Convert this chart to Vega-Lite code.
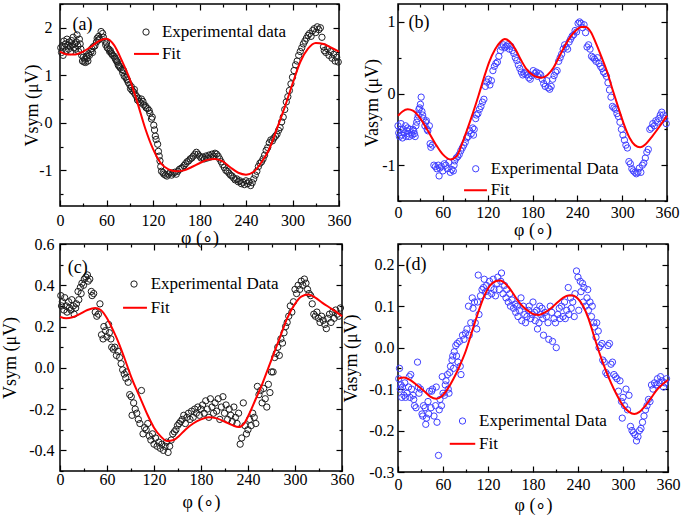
{
"$schema": "https://vega.github.io/schema/vega-lite/v6.json",
"padding": {"left": 0, "top": 2, "right": 5, "bottom": 5},
"columns": 2,
"bounds": "flush",
"align": "all",
"spacing": {"row": 12, "column": 56},
"resolve": {"scale": {"x": "independent", "y": "independent"}},
"datasets": {
"a_pts": [{"phi":1,"v":1.58},{"phi":2,"v":1.48},{"phi":3,"v":1.62},{"phi":4,"v":1.42},{"phi":5,"v":1.72},{"phi":6,"v":1.6},{"phi":7,"v":1.66},{"phi":8,"v":1.52},{"phi":9,"v":1.76},{"phi":10,"v":1.63},{"phi":11,"v":1.55},{"phi":12,"v":1.7},{"phi":13,"v":1.6},{"phi":14,"v":1.5},{"phi":15,"v":1.73},{"phi":16,"v":1.64},{"phi":17,"v":1.8},{"phi":18,"v":1.58},{"phi":19,"v":1.66},{"phi":20,"v":1.55},{"phi":21,"v":1.7},{"phi":22,"v":1.85},{"phi":23,"v":1.62},{"phi":24,"v":1.5},{"phi":25,"v":1.76},{"phi":26,"v":1.66},{"phi":27,"v":1.55},{"phi":28,"v":1.42},{"phi":29,"v":1.3},{"phi":30,"v":1.38},{"phi":31,"v":1.28},{"phi":32,"v":1.34},{"phi":33,"v":1.27},{"phi":34,"v":1.4},{"phi":35,"v":1.36},{"phi":36,"v":1.3},{"phi":37,"v":1.45},{"phi":38,"v":1.42},{"phi":40,"v":1.5},{"phi":41,"v":1.56},{"phi":42,"v":1.48},{"phi":43,"v":1.6},{"phi":45,"v":1.62},{"phi":47,"v":1.7},{"phi":48,"v":1.78},{"phi":49,"v":1.74},{"phi":50,"v":1.82},{"phi":51,"v":1.76},{"phi":53,"v":1.92},{"phi":55,"v":1.88},{"phi":56,"v":1.8},{"phi":58,"v":1.72},{"phi":59,"v":1.64},{"phi":60,"v":1.68},{"phi":61,"v":1.58},{"phi":63,"v":1.55},{"phi":64,"v":1.5},{"phi":65,"v":1.52},{"phi":66,"v":1.47},{"phi":67,"v":1.45},{"phi":68,"v":1.42},{"phi":70,"v":1.4},{"phi":71,"v":1.36},{"phi":72,"v":1.33},{"phi":73,"v":1.3},{"phi":74,"v":1.28},{"phi":75,"v":1.22},{"phi":76,"v":1.2},{"phi":77,"v":1.18},{"phi":78,"v":1.15},{"phi":80,"v":1.12},{"phi":81,"v":1.05},{"phi":82,"v":1.1},{"phi":83,"v":0.98},{"phi":85,"v":0.96},{"phi":86,"v":0.92},{"phi":87,"v":0.9},{"phi":88,"v":0.85},{"phi":90,"v":0.8},{"phi":91,"v":0.72},{"phi":92,"v":0.76},{"phi":93,"v":0.68},{"phi":95,"v":0.65},{"phi":96,"v":0.7},{"phi":97,"v":0.6},{"phi":99,"v":0.55},{"phi":100,"v":0.48},{"phi":101,"v":0.52},{"phi":102,"v":0.45},{"phi":104,"v":0.42},{"phi":105,"v":0.5},{"phi":107,"v":0.45},{"phi":108,"v":0.38},{"phi":110,"v":0.36},{"phi":111,"v":0.32},{"phi":113,"v":0.3},{"phi":115,"v":0.26},{"phi":116,"v":0.2},{"phi":118,"v":0.08},{"phi":119,"v":0.12},{"phi":121,"v":-0.05},{"phi":122,"v":-0.15},{"phi":123,"v":-0.28},{"phi":124,"v":-0.35},{"phi":126,"v":-0.45},{"phi":127,"v":-0.6},{"phi":128,"v":-0.7},{"phi":129,"v":-0.8},{"phi":130,"v":-0.92},{"phi":131,"v":-1.02},{"phi":133,"v":-1.05},{"phi":134,"v":-1.08},{"phi":136,"v":-1.1},{"phi":138,"v":-1.12},{"phi":140,"v":-1.08},{"phi":142,"v":-1.05},{"phi":144,"v":-1.1},{"phi":146,"v":-1.06},{"phi":148,"v":-1.04},{"phi":150,"v":-1.08},{"phi":152,"v":-1.02},{"phi":154,"v":-0.98},{"phi":156,"v":-0.96},{"phi":158,"v":-0.94},{"phi":160,"v":-0.9},{"phi":162,"v":-0.86},{"phi":164,"v":-0.82},{"phi":166,"v":-0.8},{"phi":168,"v":-0.76},{"phi":170,"v":-0.74},{"phi":172,"v":-0.7},{"phi":174,"v":-0.66},{"phi":176,"v":-0.62},{"phi":178,"v":-0.66},{"phi":180,"v":-0.7},{"phi":182,"v":-0.74},{"phi":184,"v":-0.72},{"phi":186,"v":-0.76},{"phi":188,"v":-0.7},{"phi":190,"v":-0.74},{"phi":192,"v":-0.68},{"phi":194,"v":-0.72},{"phi":196,"v":-0.66},{"phi":198,"v":-0.7},{"phi":200,"v":-0.64},{"phi":202,"v":-0.66},{"phi":204,"v":-0.7},{"phi":206,"v":-0.76},{"phi":208,"v":-0.82},{"phi":210,"v":-0.88},{"phi":212,"v":-0.94},{"phi":214,"v":-1.0},{"phi":216,"v":-1.02},{"phi":218,"v":-1.06},{"phi":220,"v":-1.1},{"phi":222,"v":-1.12},{"phi":224,"v":-1.16},{"phi":226,"v":-1.2},{"phi":228,"v":-1.18},{"phi":230,"v":-1.24},{"phi":232,"v":-1.22},{"phi":234,"v":-1.28},{"phi":236,"v":-1.25},{"phi":238,"v":-1.3},{"phi":240,"v":-1.22},{"phi":242,"v":-1.28},{"phi":244,"v":-1.24},{"phi":246,"v":-1.32},{"phi":248,"v":-1.26},{"phi":250,"v":-1.18},{"phi":252,"v":-1.1},{"phi":254,"v":-1.02},{"phi":256,"v":-0.92},{"phi":258,"v":-0.85},{"phi":260,"v":-0.82},{"phi":262,"v":-0.76},{"phi":264,"v":-0.68},{"phi":266,"v":-0.58},{"phi":268,"v":-0.52},{"phi":270,"v":-0.42},{"phi":272,"v":-0.36},{"phi":274,"v":-0.38},{"phi":276,"v":-0.32},{"phi":278,"v":-0.28},{"phi":280,"v":-0.24},{"phi":282,"v":-0.16},{"phi":284,"v":-0.1},{"phi":286,"v":0.02},{"phi":288,"v":0.12},{"phi":290,"v":0.28},{"phi":292,"v":0.44},{"phi":294,"v":0.55},{"phi":296,"v":0.68},{"phi":298,"v":0.82},{"phi":300,"v":0.96},{"phi":302,"v":1.1},{"phi":304,"v":1.22},{"phi":306,"v":1.3},{"phi":308,"v":1.42},{"phi":310,"v":1.5},{"phi":312,"v":1.58},{"phi":314,"v":1.66},{"phi":316,"v":1.72},{"phi":318,"v":1.78},{"phi":320,"v":1.84},{"phi":322,"v":1.88},{"phi":324,"v":1.82},{"phi":326,"v":1.94},{"phi":328,"v":1.98},{"phi":330,"v":1.9},{"phi":332,"v":2.02},{"phi":334,"v":1.96},{"phi":336,"v":2.0},{"phi":338,"v":1.8},{"phi":340,"v":1.6},{"phi":341,"v":1.52},{"phi":343,"v":1.48},{"phi":345,"v":1.56},{"phi":347,"v":1.42},{"phi":349,"v":1.5},{"phi":351,"v":1.36},{"phi":353,"v":1.44},{"phi":355,"v":1.3},{"phi":357,"v":1.38},{"phi":359,"v":1.28}],
"a_fit": [{"phi":0,"v":1.5},{"phi":10,"v":1.44},{"phi":20,"v":1.44},{"phi":30,"v":1.5},{"phi":40,"v":1.6},{"phi":50,"v":1.72},{"phi":60,"v":1.77},{"phi":70,"v":1.63},{"phi":80,"v":1.3},{"phi":90,"v":0.92},{"phi":100,"v":0.42},{"phi":110,"v":-0.12},{"phi":120,"v":-0.55},{"phi":130,"v":-0.85},{"phi":140,"v":-0.98},{"phi":150,"v":-1.02},{"phi":160,"v":-1.0},{"phi":170,"v":-0.93},{"phi":180,"v":-0.85},{"phi":190,"v":-0.78},{"phi":200,"v":-0.76},{"phi":210,"v":-0.81},{"phi":220,"v":-0.94},{"phi":230,"v":-1.05},{"phi":240,"v":-1.09},{"phi":250,"v":-1.03},{"phi":260,"v":-0.83},{"phi":270,"v":-0.55},{"phi":280,"v":-0.12},{"phi":290,"v":0.33},{"phi":300,"v":0.82},{"phi":310,"v":1.28},{"phi":320,"v":1.56},{"phi":330,"v":1.68},{"phi":340,"v":1.66},{"phi":350,"v":1.58},{"phi":360,"v":1.5}],
"b_pts": [{"phi":0,"v":-0.45},{"phi":1,"v":-0.55},{"phi":2,"v":-0.6},{"phi":3,"v":-0.5},{"phi":4,"v":-0.42},{"phi":5,"v":-0.58},{"phi":6,"v":-0.62},{"phi":7,"v":-0.5},{"phi":8,"v":-0.55},{"phi":10,"v":-0.45},{"phi":11,"v":-0.6},{"phi":12,"v":-0.52},{"phi":13,"v":-0.48},{"phi":14,"v":-0.56},{"phi":15,"v":-0.6},{"phi":16,"v":-0.5},{"phi":18,"v":-0.55},{"phi":19,"v":-0.58},{"phi":20,"v":-0.5},{"phi":21,"v":-0.52},{"phi":22,"v":-0.56},{"phi":23,"v":-0.6},{"phi":24,"v":-0.45},{"phi":25,"v":-0.4},{"phi":26,"v":-0.35},{"phi":27,"v":-0.3},{"phi":28,"v":-0.22},{"phi":29,"v":-0.2},{"phi":30,"v":-0.15},{"phi":31,"v":-0.05},{"phi":32,"v":-0.25},{"phi":33,"v":-0.3},{"phi":34,"v":-0.35},{"phi":36,"v":-0.45},{"phi":37,"v":-0.4},{"phi":38,"v":-0.38},{"phi":39,"v":-0.5},{"phi":40,"v":-0.52},{"phi":42,"v":-0.45},{"phi":43,"v":-0.7},{"phi":44,"v":-0.75},{"phi":46,"v":-0.72},{"phi":48,"v":-1.0},{"phi":50,"v":-1.02},{"phi":52,"v":-1.05},{"phi":54,"v":-1.0},{"phi":55,"v":-1.15},{"phi":56,"v":-1.04},{"phi":58,"v":-1.02},{"phi":60,"v":-1.08},{"phi":62,"v":-0.98},{"phi":64,"v":-1.0},{"phi":66,"v":-1.05},{"phi":68,"v":-0.96},{"phi":70,"v":-1.1},{"phi":72,"v":-1.06},{"phi":74,"v":-1.08},{"phi":75,"v":-1.0},{"phi":76,"v":-0.94},{"phi":78,"v":-0.9},{"phi":80,"v":-0.88},{"phi":82,"v":-0.85},{"phi":84,"v":-0.8},{"phi":86,"v":-0.76},{"phi":88,"v":-0.72},{"phi":90,"v":-0.68},{"phi":92,"v":-0.62},{"phi":94,"v":-0.6},{"phi":96,"v":-0.52},{"phi":98,"v":-0.56},{"phi":100,"v":-0.48},{"phi":101,"v":-0.58},{"phi":102,"v":-0.5},{"phi":104,"v":-0.35},{"phi":105,"v":-0.3},{"phi":107,"v":-0.28},{"phi":109,"v":-0.22},{"phi":111,"v":-0.18},{"phi":113,"v":-0.12},{"phi":115,"v":-0.08},{"phi":117,"v":0.1},{"phi":119,"v":0.16},{"phi":121,"v":0.2},{"phi":123,"v":0.12},{"phi":125,"v":0.18},{"phi":127,"v":0.32},{"phi":129,"v":0.38},{"phi":131,"v":0.42},{"phi":133,"v":0.44},{"phi":135,"v":0.52},{"phi":137,"v":0.6},{"phi":139,"v":0.65},{"phi":141,"v":0.68},{"phi":143,"v":0.64},{"phi":145,"v":0.66},{"phi":147,"v":0.68},{"phi":149,"v":0.62},{"phi":151,"v":0.66},{"phi":153,"v":0.6},{"phi":155,"v":0.56},{"phi":157,"v":0.5},{"phi":159,"v":0.46},{"phi":161,"v":0.4},{"phi":163,"v":0.35},{"phi":165,"v":0.3},{"phi":167,"v":0.26},{"phi":169,"v":0.28},{"phi":171,"v":0.3},{"phi":173,"v":0.26},{"phi":175,"v":0.22},{"phi":177,"v":0.2},{"phi":179,"v":0.25},{"phi":181,"v":0.32},{"phi":183,"v":0.28},{"phi":185,"v":0.3},{"phi":187,"v":0.24},{"phi":189,"v":0.28},{"phi":191,"v":0.26},{"phi":193,"v":0.2},{"phi":195,"v":0.14},{"phi":197,"v":0.1},{"phi":199,"v":0.18},{"phi":201,"v":0.08},{"phi":203,"v":0.06},{"phi":205,"v":0.1},{"phi":207,"v":0.2},{"phi":209,"v":0.25},{"phi":211,"v":0.3},{"phi":213,"v":0.32},{"phi":215,"v":0.45},{"phi":217,"v":0.5},{"phi":219,"v":0.55},{"phi":221,"v":0.62},{"phi":223,"v":0.68},{"phi":225,"v":0.65},{"phi":227,"v":0.62},{"phi":229,"v":0.72},{"phi":231,"v":0.76},{"phi":233,"v":0.8},{"phi":235,"v":0.82},{"phi":237,"v":0.88},{"phi":239,"v":0.86},{"phi":241,"v":0.98},{"phi":243,"v":1.0},{"phi":245,"v":0.98},{"phi":247,"v":0.92},{"phi":249,"v":0.96},{"phi":251,"v":0.85},{"phi":253,"v":0.65},{"phi":255,"v":0.68},{"phi":257,"v":0.62},{"phi":259,"v":0.52},{"phi":261,"v":0.5},{"phi":263,"v":0.48},{"phi":265,"v":0.45},{"phi":267,"v":0.5},{"phi":269,"v":0.42},{"phi":271,"v":0.38},{"phi":273,"v":0.35},{"phi":275,"v":0.3},{"phi":277,"v":0.28},{"phi":279,"v":0.24},{"phi":281,"v":0.15},{"phi":283,"v":0.05},{"phi":285,"v":-0.05},{"phi":287,"v":-0.18},{"phi":289,"v":-0.2},{"phi":291,"v":-0.22},{"phi":293,"v":-0.28},{"phi":295,"v":-0.32},{"phi":297,"v":-0.4},{"phi":299,"v":-0.5},{"phi":301,"v":-0.58},{"phi":303,"v":-0.65},{"phi":305,"v":-0.72},{"phi":307,"v":-0.76},{"phi":309,"v":-0.95},{"phi":311,"v":-0.98},{"phi":313,"v":-1.05},{"phi":315,"v":-1.08},{"phi":317,"v":-1.1},{"phi":319,"v":-1.12},{"phi":321,"v":-1.1},{"phi":323,"v":-1.04},{"phi":325,"v":-1.1},{"phi":327,"v":-1.0},{"phi":329,"v":-0.97},{"phi":331,"v":-0.9},{"phi":333,"v":-0.82},{"phi":335,"v":-0.78},{"phi":337,"v":-0.5},{"phi":339,"v":-0.48},{"phi":341,"v":-0.42},{"phi":343,"v":-0.45},{"phi":345,"v":-0.38},{"phi":347,"v":-0.4},{"phi":349,"v":-0.35},{"phi":351,"v":-0.3},{"phi":353,"v":-0.26},{"phi":355,"v":-0.3},{"phi":357,"v":-0.35},{"phi":359,"v":-0.42}],
"b_fit": [{"phi":0,"v":-0.31},{"phi":6,"v":-0.25},{"phi":13,"v":-0.22},{"phi":20,"v":-0.24},{"phi":30,"v":-0.35},{"phi":40,"v":-0.52},{"phi":50,"v":-0.7},{"phi":60,"v":-0.85},{"phi":70,"v":-0.92},{"phi":78,"v":-0.88},{"phi":85,"v":-0.72},{"phi":92,"v":-0.52},{"phi":100,"v":-0.28},{"phi":108,"v":-0.02},{"phi":115,"v":0.22},{"phi":122,"v":0.44},{"phi":130,"v":0.62},{"phi":137,"v":0.72},{"phi":143,"v":0.76},{"phi":150,"v":0.72},{"phi":157,"v":0.62},{"phi":165,"v":0.46},{"phi":172,"v":0.34},{"phi":180,"v":0.26},{"phi":186,"v":0.23},{"phi":192,"v":0.22},{"phi":200,"v":0.26},{"phi":208,"v":0.36},{"phi":215,"v":0.5},{"phi":222,"v":0.64},{"phi":230,"v":0.78},{"phi":238,"v":0.88},{"phi":245,"v":0.93},{"phi":251,"v":0.93},{"phi":258,"v":0.86},{"phi":265,"v":0.7},{"phi":272,"v":0.52},{"phi":280,"v":0.3},{"phi":287,"v":0.06},{"phi":295,"v":-0.2},{"phi":302,"v":-0.42},{"phi":310,"v":-0.62},{"phi":317,"v":-0.72},{"phi":324,"v":-0.75},{"phi":332,"v":-0.7},{"phi":340,"v":-0.6},{"phi":350,"v":-0.46},{"phi":360,"v":-0.31}],
"c_pts": [{"phi":1,"v":0.35},{"phi":2,"v":0.3},{"phi":3,"v":0.32},{"phi":5,"v":0.28},{"phi":6,"v":0.34},{"phi":8,"v":0.3},{"phi":9,"v":0.27},{"phi":11,"v":0.32},{"phi":12,"v":0.29},{"phi":14,"v":0.28},{"phi":15,"v":0.33},{"phi":17,"v":0.3},{"phi":18,"v":0.26},{"phi":20,"v":0.29},{"phi":21,"v":0.31},{"phi":23,"v":0.37},{"phi":24,"v":0.33},{"phi":26,"v":0.39},{"phi":27,"v":0.36},{"phi":28,"v":0.41},{"phi":30,"v":0.4},{"phi":31,"v":0.43},{"phi":33,"v":0.44},{"phi":35,"v":0.45},{"phi":36,"v":0.42},{"phi":38,"v":0.43},{"phi":40,"v":0.37},{"phi":41,"v":0.35},{"phi":43,"v":0.36},{"phi":45,"v":0.27},{"phi":47,"v":0.25},{"phi":49,"v":0.26},{"phi":51,"v":0.31},{"phi":53,"v":0.16},{"phi":55,"v":0.14},{"phi":56,"v":0.2},{"phi":58,"v":0.18},{"phi":60,"v":0.15},{"phi":62,"v":0.21},{"phi":63,"v":0.17},{"phi":65,"v":0.14},{"phi":66,"v":0.1},{"phi":68,"v":0.09},{"phi":70,"v":0.1},{"phi":72,"v":0.06},{"phi":74,"v":0.08},{"phi":76,"v":0.05},{"phi":78,"v":0.02},{"phi":80,"v":-0.01},{"phi":82,"v":-0.03},{"phi":84,"v":-0.05},{"phi":85,"v":-0.02},{"phi":87,"v":-0.07},{"phi":89,"v":-0.13},{"phi":91,"v":-0.14},{"phi":92,"v":-0.23},{"phi":94,"v":-0.17},{"phi":96,"v":-0.2},{"phi":98,"v":-0.22},{"phi":100,"v":-0.25},{"phi":102,"v":-0.27},{"phi":104,"v":-0.11},{"phi":106,"v":-0.32},{"phi":108,"v":-0.29},{"phi":110,"v":-0.3},{"phi":112,"v":-0.27},{"phi":114,"v":-0.33},{"phi":116,"v":-0.35},{"phi":118,"v":-0.32},{"phi":120,"v":-0.37},{"phi":122,"v":-0.34},{"phi":124,"v":-0.38},{"phi":126,"v":-0.36},{"phi":128,"v":-0.39},{"phi":130,"v":-0.37},{"phi":132,"v":-0.4},{"phi":134,"v":-0.38},{"phi":136,"v":-0.36},{"phi":138,"v":-0.41},{"phi":140,"v":-0.38},{"phi":142,"v":-0.35},{"phi":144,"v":-0.32},{"phi":146,"v":-0.31},{"phi":148,"v":-0.3},{"phi":150,"v":-0.28},{"phi":152,"v":-0.27},{"phi":154,"v":-0.26},{"phi":156,"v":-0.25},{"phi":158,"v":-0.23},{"phi":160,"v":-0.27},{"phi":162,"v":-0.24},{"phi":164,"v":-0.22},{"phi":166,"v":-0.25},{"phi":168,"v":-0.21},{"phi":170,"v":-0.24},{"phi":172,"v":-0.2},{"phi":174,"v":-0.22},{"phi":176,"v":-0.19},{"phi":178,"v":-0.23},{"phi":180,"v":-0.2},{"phi":182,"v":-0.18},{"phi":184,"v":-0.22},{"phi":186,"v":-0.16},{"phi":188,"v":-0.2},{"phi":190,"v":-0.24},{"phi":192,"v":-0.15},{"phi":194,"v":-0.19},{"phi":196,"v":-0.22},{"phi":198,"v":-0.17},{"phi":200,"v":-0.21},{"phi":202,"v":-0.15},{"phi":204,"v":-0.25},{"phi":206,"v":-0.19},{"phi":208,"v":-0.14},{"phi":210,"v":-0.22},{"phi":212,"v":-0.18},{"phi":214,"v":-0.25},{"phi":216,"v":-0.2},{"phi":218,"v":-0.23},{"phi":220,"v":-0.26},{"phi":222,"v":-0.19},{"phi":224,"v":-0.24},{"phi":226,"v":-0.27},{"phi":228,"v":-0.22},{"phi":230,"v":-0.37},{"phi":232,"v":-0.34},{"phi":234,"v":-0.17},{"phi":236,"v":-0.28},{"phi":238,"v":-0.32},{"phi":240,"v":-0.3},{"phi":242,"v":-0.25},{"phi":244,"v":-0.28},{"phi":246,"v":-0.22},{"phi":248,"v":-0.24},{"phi":250,"v":-0.27},{"phi":252,"v":-0.09},{"phi":254,"v":-0.13},{"phi":256,"v":-0.11},{"phi":258,"v":-0.17},{"phi":260,"v":-0.1},{"phi":262,"v":-0.15},{"phi":264,"v":-0.19},{"phi":266,"v":-0.08},{"phi":268,"v":-0.12},{"phi":270,"v":-0.02},{"phi":272,"v":-0.02},{"phi":274,"v":0.05},{"phi":276,"v":0.07},{"phi":278,"v":0.1},{"phi":280,"v":0.06},{"phi":282,"v":0.14},{"phi":284,"v":0.12},{"phi":286,"v":0.17},{"phi":288,"v":0.2},{"phi":290,"v":0.22},{"phi":292,"v":0.25},{"phi":294,"v":0.3},{"phi":296,"v":0.27},{"phi":298,"v":0.32},{"phi":300,"v":0.38},{"phi":302,"v":0.36},{"phi":304,"v":0.4},{"phi":306,"v":0.38},{"phi":308,"v":0.42},{"phi":310,"v":0.4},{"phi":312,"v":0.43},{"phi":314,"v":0.41},{"phi":316,"v":0.38},{"phi":318,"v":0.36},{"phi":320,"v":0.35},{"phi":322,"v":0.31},{"phi":324,"v":0.26},{"phi":326,"v":0.25},{"phi":328,"v":0.27},{"phi":330,"v":0.24},{"phi":332,"v":0.22},{"phi":334,"v":0.25},{"phi":336,"v":0.23},{"phi":338,"v":0.21},{"phi":340,"v":0.19},{"phi":342,"v":0.24},{"phi":344,"v":0.26},{"phi":346,"v":0.22},{"phi":348,"v":0.27},{"phi":350,"v":0.24},{"phi":352,"v":0.28},{"phi":354,"v":0.26},{"phi":356,"v":0.25},{"phi":358,"v":0.29}],
"c_fit": [{"phi":0,"v":0.247},{"phi":8,"v":0.24},{"phi":16,"v":0.245},{"phi":25,"v":0.26},{"phi":35,"v":0.28},{"phi":45,"v":0.29},{"phi":52,"v":0.28},{"phi":60,"v":0.24},{"phi":68,"v":0.18},{"phi":75,"v":0.12},{"phi":82,"v":0.05},{"phi":90,"v":-0.035},{"phi":97,"v":-0.1},{"phi":104,"v":-0.16},{"phi":112,"v":-0.23},{"phi":120,"v":-0.29},{"phi":128,"v":-0.33},{"phi":137,"v":-0.355},{"phi":145,"v":-0.35},{"phi":152,"v":-0.33},{"phi":160,"v":-0.3},{"phi":170,"v":-0.27},{"phi":180,"v":-0.25},{"phi":190,"v":-0.24},{"phi":200,"v":-0.245},{"phi":210,"v":-0.26},{"phi":220,"v":-0.278},{"phi":228,"v":-0.287},{"phi":235,"v":-0.27},{"phi":242,"v":-0.22},{"phi":250,"v":-0.15},{"phi":258,"v":-0.08},{"phi":266,"v":0.0},{"phi":274,"v":0.08},{"phi":282,"v":0.16},{"phi":290,"v":0.24},{"phi":300,"v":0.31},{"phi":308,"v":0.345},{"phi":317,"v":0.355},{"phi":326,"v":0.34},{"phi":335,"v":0.315},{"phi":345,"v":0.29},{"phi":353,"v":0.27},{"phi":360,"v":0.25}],
"d_pts": [{"phi":1,"v":-0.075},{"phi":2,"v":-0.05},{"phi":3,"v":-0.1},{"phi":4,"v":-0.09},{"phi":5,"v":-0.12},{"phi":6,"v":-0.095},{"phi":8,"v":-0.115},{"phi":9,"v":-0.085},{"phi":10,"v":-0.12},{"phi":12,"v":-0.11},{"phi":14,"v":-0.095},{"phi":15,"v":-0.07},{"phi":16,"v":-0.12},{"phi":17,"v":-0.065},{"phi":18,"v":-0.1},{"phi":20,"v":-0.115},{"phi":21,"v":-0.125},{"phi":22,"v":-0.14},{"phi":24,"v":-0.145},{"phi":26,"v":-0.035},{"phi":27,"v":-0.095},{"phi":28,"v":-0.11},{"phi":30,"v":-0.1},{"phi":32,"v":-0.16},{"phi":33,"v":-0.165},{"phi":34,"v":-0.14},{"phi":36,"v":-0.145},{"phi":37,"v":-0.185},{"phi":38,"v":-0.17},{"phi":40,"v":-0.13},{"phi":41,"v":-0.16},{"phi":42,"v":-0.105},{"phi":44,"v":-0.145},{"phi":45,"v":-0.105},{"phi":46,"v":-0.1},{"phi":48,"v":-0.165},{"phi":50,"v":-0.14},{"phi":51,"v":-0.095},{"phi":52,"v":-0.18},{"phi":54,"v":-0.26},{"phi":55,"v":-0.15},{"phi":56,"v":-0.125},{"phi":58,"v":-0.14},{"phi":59,"v":-0.07},{"phi":60,"v":-0.11},{"phi":62,"v":-0.115},{"phi":63,"v":-0.09},{"phi":64,"v":-0.08},{"phi":66,"v":-0.065},{"phi":67,"v":-0.1},{"phi":68,"v":-0.11},{"phi":69,"v":-0.06},{"phi":70,"v":-0.045},{"phi":72,"v":-0.03},{"phi":73,"v":-0.02},{"phi":74,"v":-0.05},{"phi":75,"v":-0.01},{"phi":77,"v":0.005},{"phi":78,"v":-0.02},{"phi":79,"v":0.01},{"phi":80,"v":-0.035},{"phi":82,"v":0.015},{"phi":83,"v":-0.045},{"phi":84,"v":-0.065},{"phi":86,"v":0.03},{"phi":88,"v":0.02},{"phi":90,"v":0.035},{"phi":92,"v":0.045},{"phi":94,"v":0.1},{"phi":95,"v":0.03},{"phi":97,"v":0.06},{"phi":99,"v":0.12},{"phi":100,"v":0.095},{"phi":102,"v":0.11},{"phi":103,"v":0.06},{"phi":105,"v":0.045},{"phi":106,"v":0.11},{"phi":107,"v":0.175},{"phi":108,"v":0.08},{"phi":110,"v":0.125},{"phi":112,"v":0.14},{"phi":114,"v":0.145},{"phi":115,"v":0.165},{"phi":117,"v":0.135},{"phi":118,"v":0.15},{"phi":120,"v":0.125},{"phi":122,"v":0.16},{"phi":124,"v":0.145},{"phi":125,"v":0.13},{"phi":127,"v":0.165},{"phi":128,"v":0.14},{"phi":130,"v":0.125},{"phi":132,"v":0.155},{"phi":133,"v":0.17},{"phi":135,"v":0.14},{"phi":137,"v":0.16},{"phi":138,"v":0.18},{"phi":140,"v":0.13},{"phi":142,"v":0.15},{"phi":144,"v":0.12},{"phi":145,"v":0.14},{"phi":147,"v":0.11},{"phi":149,"v":0.13},{"phi":150,"v":0.1},{"phi":152,"v":0.115},{"phi":154,"v":0.095},{"phi":156,"v":0.105},{"phi":157,"v":0.085},{"phi":159,"v":0.1},{"phi":160,"v":0.075},{"phi":162,"v":0.09},{"phi":164,"v":0.12},{"phi":165,"v":0.065},{"phi":167,"v":0.1},{"phi":169,"v":0.08},{"phi":170,"v":0.06},{"phi":172,"v":0.075},{"phi":174,"v":0.09},{"phi":175,"v":0.1},{"phi":177,"v":0.07},{"phi":179,"v":0.08},{"phi":180,"v":0.11},{"phi":182,"v":0.085},{"phi":183,"v":0.065},{"phi":185,"v":0.09},{"phi":186,"v":0.045},{"phi":188,"v":0.06},{"phi":189,"v":0.1},{"phi":190,"v":0.08},{"phi":192,"v":0.095},{"phi":193,"v":0.07},{"phi":194,"v":0.03},{"phi":196,"v":0.085},{"phi":198,"v":0.075},{"phi":200,"v":0.06},{"phi":201,"v":0.02},{"phi":203,"v":0.1},{"phi":205,"v":0.085},{"phi":206,"v":0.015},{"phi":208,"v":0.07},{"phi":210,"v":0.06},{"phi":211,"v":0.0},{"phi":213,"v":0.08},{"phi":215,"v":0.095},{"phi":216,"v":0.07},{"phi":218,"v":0.1},{"phi":220,"v":0.075},{"phi":222,"v":0.11},{"phi":223,"v":0.07},{"phi":225,"v":0.09},{"phi":227,"v":0.145},{"phi":228,"v":0.08},{"phi":230,"v":0.12},{"phi":231,"v":0.095},{"phi":233,"v":0.11},{"phi":235,"v":0.075},{"phi":236,"v":0.13},{"phi":238,"v":0.185},{"phi":240,"v":0.17},{"phi":241,"v":0.09},{"phi":243,"v":0.16},{"phi":244,"v":0.135},{"phi":246,"v":0.155},{"phi":247,"v":0.11},{"phi":248,"v":0.145},{"phi":250,"v":0.1},{"phi":252,"v":0.12},{"phi":253,"v":0.14},{"phi":254,"v":0.09},{"phi":256,"v":0.11},{"phi":258,"v":0.075},{"phi":259,"v":0.1},{"phi":261,"v":0.06},{"phi":262,"v":0.05},{"phi":264,"v":0.025},{"phi":265,"v":0.06},{"phi":267,"v":0.04},{"phi":268,"v":0.0},{"phi":270,"v":0.005},{"phi":272,"v":0.01},{"phi":273,"v":-0.03},{"phi":275,"v":-0.035},{"phi":277,"v":-0.06},{"phi":279,"v":-0.065},{"phi":280,"v":0.005},{"phi":282,"v":0.01},{"phi":284,"v":-0.04},{"phi":286,"v":-0.035},{"phi":288,"v":-0.065},{"phi":290,"v":-0.07},{"phi":292,"v":-0.075},{"phi":294,"v":-0.105},{"phi":296,"v":-0.08},{"phi":298,"v":-0.13},{"phi":299,"v":-0.17},{"phi":300,"v":-0.12},{"phi":302,"v":-0.14},{"phi":304,"v":-0.1},{"phi":306,"v":-0.15},{"phi":308,"v":-0.115},{"phi":310,"v":-0.19},{"phi":312,"v":-0.2},{"phi":314,"v":-0.205},{"phi":316,"v":-0.21},{"phi":318,"v":-0.225},{"phi":320,"v":-0.215},{"phi":322,"v":-0.2},{"phi":324,"v":-0.195},{"phi":326,"v":-0.18},{"phi":328,"v":-0.165},{"phi":330,"v":-0.15},{"phi":332,"v":-0.14},{"phi":334,"v":-0.125},{"phi":336,"v":-0.13},{"phi":338,"v":-0.09},{"phi":340,"v":-0.1},{"phi":342,"v":-0.085},{"phi":344,"v":-0.09},{"phi":346,"v":-0.075},{"phi":348,"v":-0.085},{"phi":350,"v":-0.07},{"phi":352,"v":-0.08},{"phi":354,"v":-0.095},{"phi":356,"v":-0.085},{"phi":358,"v":-0.075}],
"d_fit": [{"phi":0,"v":-0.075},{"phi":8,"v":-0.072},{"phi":16,"v":-0.078},{"phi":25,"v":-0.09},{"phi":35,"v":-0.105},{"phi":43,"v":-0.118},{"phi":51,"v":-0.123},{"phi":58,"v":-0.118},{"phi":66,"v":-0.1},{"phi":74,"v":-0.075},{"phi":82,"v":-0.045},{"phi":90,"v":-0.01},{"phi":98,"v":0.035},{"phi":106,"v":0.08},{"phi":114,"v":0.12},{"phi":122,"v":0.148},{"phi":130,"v":0.16},{"phi":136,"v":0.162},{"phi":143,"v":0.155},{"phi":150,"v":0.14},{"phi":158,"v":0.118},{"phi":166,"v":0.1},{"phi":174,"v":0.088},{"phi":182,"v":0.08},{"phi":188,"v":0.079},{"phi":196,"v":0.085},{"phi":204,"v":0.095},{"phi":212,"v":0.108},{"phi":220,"v":0.12},{"phi":227,"v":0.126},{"phi":233,"v":0.126},{"phi":240,"v":0.118},{"phi":247,"v":0.1},{"phi":254,"v":0.07},{"phi":261,"v":0.03},{"phi":268,"v":-0.01},{"phi":276,"v":-0.05},{"phi":284,"v":-0.085},{"phi":292,"v":-0.115},{"phi":300,"v":-0.14},{"phi":308,"v":-0.155},{"phi":315,"v":-0.16},{"phi":322,"v":-0.155},{"phi":330,"v":-0.14},{"phi":338,"v":-0.12},{"phi":346,"v":-0.1},{"phi":353,"v":-0.088},{"phi":360,"v":-0.078}],
"a_lab": [{"phi":16,"v":2.06,"t":"(a)"}],
"a_legt": [{"phi":131.5,"v":1.91,"t":"Experimental data"},{"phi":131.5,"v":1.45,"t":"Fit"}],
"a_legp": [{"phi":111,"v":1.91}],
"a_legl": [{"phi":95.5,"phi2":127.7,"v":1.45}],
"b_lab": [{"phi":14,"v":0.99,"t":"(b)"}],
"b_legt": [{"phi":124,"v":-1.05,"t":"Experimental Data"},{"phi":124,"v":-1.35,"t":"Fit"}],
"b_legp": [{"phi":104,"v":-1.05}],
"b_legl": [{"phi":88.4,"phi2":119,"v":-1.35}],
"c_lab": [{"phi":10,"v":0.485,"t":"(c)"}],
"c_legt": [{"phi":115.8,"v":0.406,"t":"Experimental Data"},{"phi":115.8,"v":0.291,"t":"Fit"}],
"c_legp": [{"phi":94.5,"v":0.406}],
"c_legl": [{"phi":80.5,"phi2":111,"v":0.291}],
"d_lab": [{"phi":10,"v":0.2,"t":"(d)"}],
"d_legt": [{"phi":108,"v":-0.177,"t":"Experimental Data"},{"phi":108,"v":-0.232,"t":"Fit"}],
"d_legp": [{"phi":86,"v":-0.177}],
"d_legl": [{"phi":69,"phi2":103,"v":-0.232}]
},
"concat": [
{"width": 279, "height": 202,
 "resolve": {"axis": {"x": "independent", "y": "independent"}},
 "layer": [
  {"data": {"name": "a_pts"}, "mark": {"type": "point", "filled": false, "size": 40, "strokeWidth": 1, "opacity": 1, "color": "#1e1e1e"},
   "encoding": {
    "x": {"field": "phi", "type": "quantitative", "scale": {"domain": [0, 360], "nice": false, "zero": false}, "axis": {"orient": "bottom", "values": [0,60,120,180,240,300,360], "tickSize": -6, "labelPadding": 12, "title": "φ (∘)", "titlePadding": 1, "labelFlush": false, "labelOverlap": false}},
    "y": {"field": "v", "type": "quantitative", "scale": {"domain": [-1.75, 2.5], "nice": false, "zero": false}, "axis": {"orient": "left", "values": [-1,0,1,2], "tickSize": -6, "labelPadding": 14, "labelExpr": "(datum.value < 0 ? '-' : '') + abs(datum.value)", "title": "Vsym (μV)", "titlePadding": 0, "minExtent": 19, "maxExtent": 19}}
   }},
  {"data": {"name": "a_fit"}, "mark": {"type": "line", "strokeWidth": 2, "interpolate": "monotone", "color": "#ff0000"},
   "encoding": {
    "x": {"field": "phi", "type": "quantitative", "axis": {"orient": "top", "values": [0,60,120,180,240,300,360], "tickSize": -6, "labels": false, "title": null}},
    "y": {"field": "v", "type": "quantitative", "axis": {"orient": "right", "values": [-1,0,1,2], "tickSize": -6, "labels": false, "title": null}}
   }},
  {"data": {"name": "a_lab"}, "mark": {"type": "text", "align": "left", "baseline": "middle", "fontSize": 18, "font": "Liberation Serif", "color": "black"},
   "encoding": {
    "x": {"field": "phi", "type": "quantitative", "axis": {"orient": "bottom", "values": [30,90,150,210,270,330], "tickSize": -3, "labels": false, "title": null}},
    "y": {"field": "v", "type": "quantitative", "axis": {"orient": "left", "values": [-1.5,-0.5,0.5,1.5,2.5], "tickSize": -3, "labels": false, "title": null}},
    "text": {"field": "t"}
   }},
  {"data": {"name": "a_legt"}, "mark": {"type": "text", "align": "left", "baseline": "middle", "fontSize": 17, "font": "Liberation Serif", "color": "black"},
   "encoding": {
    "x": {"field": "phi", "type": "quantitative", "axis": {"orient": "top", "values": [30,90,150,210,270,330], "tickSize": -3, "labels": false, "title": null}},
    "y": {"field": "v", "type": "quantitative", "axis": {"orient": "right", "values": [-1.5,-0.5,0.5,1.5,2.5], "tickSize": -3, "labels": false, "title": null}},
    "text": {"field": "t"}
   }},
  {"data": {"name": "a_legp"}, "mark": {"type": "point", "filled": false, "size": 40, "strokeWidth": 1, "opacity": 1, "color": "#1e1e1e"},
   "encoding": {"x": {"field": "phi", "type": "quantitative", "axis": null}, "y": {"field": "v", "type": "quantitative", "axis": null}}},
  {"data": {"name": "a_legl"}, "mark": {"type": "rule", "strokeWidth": 2, "color": "#ff0000"},
   "encoding": {"x": {"field": "phi", "type": "quantitative", "axis": null}, "x2": {"field": "phi2"}, "y": {"field": "v", "type": "quantitative", "axis": null}}}
 ]},
{"width": 269, "height": 197,
 "resolve": {"axis": {"x": "independent", "y": "independent"}},
 "layer": [
  {"data": {"name": "b_pts"}, "mark": {"type": "point", "filled": false, "size": 40, "strokeWidth": 1, "opacity": 1, "color": "#4040ff"},
   "encoding": {
    "x": {"field": "phi", "type": "quantitative", "scale": {"domain": [0, 360], "nice": false, "zero": false}, "axis": {"orient": "bottom", "values": [0,60,120,180,240,300,360], "tickSize": -6, "labelPadding": 9, "title": "φ (∘)", "titlePadding": 1, "labelFlush": false, "labelOverlap": false}},
    "y": {"field": "v", "type": "quantitative", "scale": {"domain": [-1.5, 1.25], "nice": false, "zero": false}, "axis": {"orient": "left", "values": [-1,0,1], "tickSize": -6, "labelPadding": 9, "labelExpr": "(datum.value < 0 ? '-' : '') + abs(datum.value)", "title": "Vasym (μV)", "titlePadding": 1, "minExtent": 16, "maxExtent": 16}}
   }},
  {"data": {"name": "b_fit"}, "mark": {"type": "line", "strokeWidth": 2, "interpolate": "monotone", "color": "#ff0000"},
   "encoding": {
    "x": {"field": "phi", "type": "quantitative", "axis": {"orient": "top", "values": [0,60,120,180,240,300,360], "tickSize": -6, "labels": false, "title": null}},
    "y": {"field": "v", "type": "quantitative", "axis": {"orient": "right", "values": [-1,0,1], "tickSize": -6, "labels": false, "title": null}}
   }},
  {"data": {"name": "b_lab"}, "mark": {"type": "text", "align": "left", "baseline": "middle", "fontSize": 18, "font": "Liberation Serif", "color": "black"},
   "encoding": {
    "x": {"field": "phi", "type": "quantitative", "axis": {"orient": "bottom", "values": [30,90,150,210,270,330], "tickSize": -3, "labels": false, "title": null}},
    "y": {"field": "v", "type": "quantitative", "axis": {"orient": "left", "values": [-1.5,-0.5,0.5], "tickSize": -3, "labels": false, "title": null}},
    "text": {"field": "t"}
   }},
  {"data": {"name": "b_legt"}, "mark": {"type": "text", "align": "left", "baseline": "middle", "fontSize": 17, "font": "Liberation Serif", "color": "black"},
   "encoding": {
    "x": {"field": "phi", "type": "quantitative", "axis": {"orient": "top", "values": [30,90,150,210,270,330], "tickSize": -3, "labels": false, "title": null}},
    "y": {"field": "v", "type": "quantitative", "axis": {"orient": "right", "values": [-1.5,-0.5,0.5], "tickSize": -3, "labels": false, "title": null}},
    "text": {"field": "t"}
   }},
  {"data": {"name": "b_legp"}, "mark": {"type": "point", "filled": false, "size": 40, "strokeWidth": 1, "opacity": 1, "color": "#4040ff"},
   "encoding": {"x": {"field": "phi", "type": "quantitative", "axis": null}, "y": {"field": "v", "type": "quantitative", "axis": null}}},
  {"data": {"name": "b_legl"}, "mark": {"type": "rule", "strokeWidth": 2, "color": "#ff0000"},
   "encoding": {"x": {"field": "phi", "type": "quantitative", "axis": null}, "x2": {"field": "phi2"}, "y": {"field": "v", "type": "quantitative", "axis": null}}}
 ]},
{"width": 282, "height": 227,
 "resolve": {"axis": {"x": "independent", "y": "independent"}},
 "layer": [
  {"data": {"name": "c_pts"}, "mark": {"type": "point", "filled": false, "size": 40, "strokeWidth": 1, "opacity": 1, "color": "#1e1e1e"},
   "encoding": {
    "x": {"field": "phi", "type": "quantitative", "scale": {"domain": [0, 360], "nice": false, "zero": false}, "axis": {"orient": "bottom", "values": [0,60,120,180,240,300,360], "tickSize": -6, "labelPadding": 6, "title": "φ (∘)", "titlePadding": 6, "labelFlush": false, "labelOverlap": false}},
    "y": {"field": "v", "type": "quantitative", "scale": {"domain": [-0.5, 0.6], "nice": false, "zero": false}, "axis": {"orient": "left", "values": [-0.4,-0.2,0,0.2,0.4,0.6], "tickSize": -6, "labelPadding": 12, "labelExpr": "(datum.value < 0 ? '-' : '') + format(abs(datum.value), '.1f')", "title": "Vsym (μV)", "titlePadding": 12, "minExtent": 29, "maxExtent": 29}}
   }},
  {"data": {"name": "c_fit"}, "mark": {"type": "line", "strokeWidth": 2, "interpolate": "monotone", "color": "#ff0000"},
   "encoding": {
    "x": {"field": "phi", "type": "quantitative", "axis": {"orient": "top", "values": [0,60,120,180,240,300,360], "tickSize": -6, "labels": false, "title": null}},
    "y": {"field": "v", "type": "quantitative", "axis": {"orient": "right", "values": [-0.4,-0.2,0,0.2,0.4,0.6], "tickSize": -6, "labels": false, "title": null}}
   }},
  {"data": {"name": "c_lab"}, "mark": {"type": "text", "align": "left", "baseline": "middle", "fontSize": 18, "font": "Liberation Serif", "color": "black"},
   "encoding": {
    "x": {"field": "phi", "type": "quantitative", "axis": {"orient": "bottom", "values": [30,90,150,210,270,330], "tickSize": -3, "labels": false, "title": null}},
    "y": {"field": "v", "type": "quantitative", "axis": {"orient": "left", "values": [-0.5,-0.3,-0.1,0.1,0.3,0.5], "tickSize": -3, "labels": false, "title": null}},
    "text": {"field": "t"}
   }},
  {"data": {"name": "c_legt"}, "mark": {"type": "text", "align": "left", "baseline": "middle", "fontSize": 17, "font": "Liberation Serif", "color": "black"},
   "encoding": {
    "x": {"field": "phi", "type": "quantitative", "axis": {"orient": "top", "values": [30,90,150,210,270,330], "tickSize": -3, "labels": false, "title": null}},
    "y": {"field": "v", "type": "quantitative", "axis": {"orient": "right", "values": [-0.5,-0.3,-0.1,0.1,0.3,0.5], "tickSize": -3, "labels": false, "title": null}},
    "text": {"field": "t"}
   }},
  {"data": {"name": "c_legp"}, "mark": {"type": "point", "filled": false, "size": 40, "strokeWidth": 1, "opacity": 1, "color": "#1e1e1e"},
   "encoding": {"x": {"field": "phi", "type": "quantitative", "axis": null}, "y": {"field": "v", "type": "quantitative", "axis": null}}},
  {"data": {"name": "c_legl"}, "mark": {"type": "rule", "strokeWidth": 2, "color": "#ff0000"},
   "encoding": {"x": {"field": "phi", "type": "quantitative", "axis": null}, "x2": {"field": "phi2"}, "y": {"field": "v", "type": "quantitative", "axis": null}}}
 ]},
{"width": 270, "height": 228,
 "resolve": {"axis": {"x": "independent", "y": "independent"}},
 "layer": [
  {"data": {"name": "d_pts"}, "mark": {"type": "point", "filled": false, "size": 40, "strokeWidth": 1, "opacity": 1, "color": "#4040ff"},
   "encoding": {
    "x": {"field": "phi", "type": "quantitative", "scale": {"domain": [0, 360], "nice": false, "zero": false}, "axis": {"orient": "bottom", "values": [0,60,120,180,240,300,360], "tickSize": -6, "labelPadding": 10, "title": "φ (∘)", "titlePadding": 4, "labelFlush": false, "labelOverlap": false}},
    "y": {"field": "v", "type": "quantitative", "scale": {"domain": [-0.3, 0.25], "nice": false, "zero": false}, "axis": {"orient": "left", "values": [-0.3,-0.2,-0.1,0,0.1,0.2], "tickSize": -6, "labelPadding": 10, "labelExpr": "(datum.value < 0 ? '-' : '') + format(abs(datum.value), '.1f')", "title": "Vasym (μV)", "titlePadding": 4, "minExtent": 34, "maxExtent": 34}}
   }},
  {"data": {"name": "d_fit"}, "mark": {"type": "line", "strokeWidth": 2, "interpolate": "monotone", "color": "#ff0000"},
   "encoding": {
    "x": {"field": "phi", "type": "quantitative", "axis": {"orient": "top", "values": [0,60,120,180,240,300,360], "tickSize": -6, "labels": false, "title": null}},
    "y": {"field": "v", "type": "quantitative", "axis": {"orient": "right", "values": [-0.3,-0.2,-0.1,0,0.1,0.2], "tickSize": -6, "labels": false, "title": null}}
   }},
  {"data": {"name": "d_lab"}, "mark": {"type": "text", "align": "left", "baseline": "middle", "fontSize": 18, "font": "Liberation Serif", "color": "black"},
   "encoding": {
    "x": {"field": "phi", "type": "quantitative", "axis": {"orient": "bottom", "values": [30,90,150,210,270,330], "tickSize": -3, "labels": false, "title": null}},
    "y": {"field": "v", "type": "quantitative", "axis": {"orient": "left", "values": [-0.25,-0.15,-0.05,0.05,0.15,0.25], "tickSize": -3, "labels": false, "title": null}},
    "text": {"field": "t"}
   }},
  {"data": {"name": "d_legt"}, "mark": {"type": "text", "align": "left", "baseline": "middle", "fontSize": 17, "font": "Liberation Serif", "color": "black"},
   "encoding": {
    "x": {"field": "phi", "type": "quantitative", "axis": {"orient": "top", "values": [30,90,150,210,270,330], "tickSize": -3, "labels": false, "title": null}},
    "y": {"field": "v", "type": "quantitative", "axis": {"orient": "right", "values": [-0.25,-0.15,-0.05,0.05,0.15,0.25], "tickSize": -3, "labels": false, "title": null}},
    "text": {"field": "t"}
   }},
  {"data": {"name": "d_legp"}, "mark": {"type": "point", "filled": false, "size": 40, "strokeWidth": 1, "opacity": 1, "color": "#4040ff"},
   "encoding": {"x": {"field": "phi", "type": "quantitative", "axis": null}, "y": {"field": "v", "type": "quantitative", "axis": null}}},
  {"data": {"name": "d_legl"}, "mark": {"type": "rule", "strokeWidth": 2, "color": "#ff0000"},
   "encoding": {"x": {"field": "phi", "type": "quantitative", "axis": null}, "x2": {"field": "phi2"}, "y": {"field": "v", "type": "quantitative", "axis": null}}}
 ]}
],
"config": {
 "font": "Liberation Serif",
 "view": {"stroke": "black", "strokeWidth": 1.5},
 "axis": {"labelFont": "Liberation Serif", "labelFontSize": 16, "labelColor": "black", "titleFont": "Liberation Serif", "titleFontSize": 18, "titleFontWeight": "normal", "titleColor": "black", "tickColor": "black", "tickWidth": 1.2, "domain": false, "grid": false}
}
}
